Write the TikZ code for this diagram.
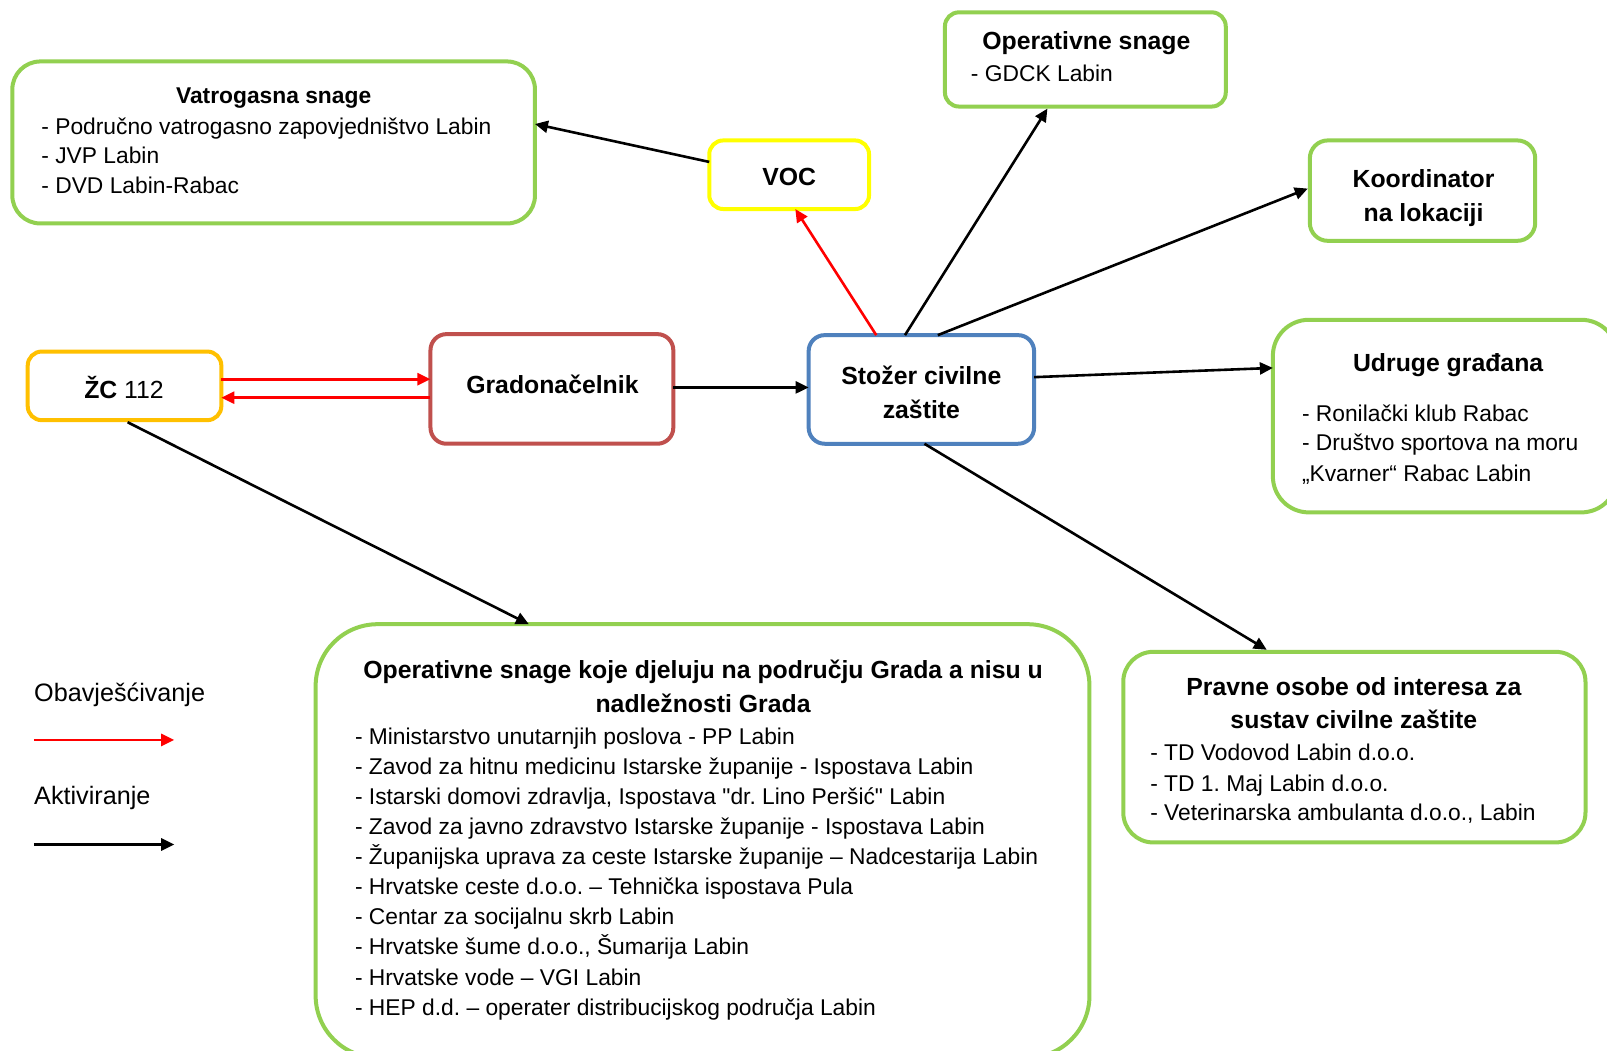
\documentclass[tikz,border=0pt]{standalone}
\usepackage{fontspec}
\setmainfont{Liberation Sans}[Ligatures=TeXOff]
\usetikzlibrary{arrows.meta,calc}
\definecolor{cgreen}{HTML}{92D050}
\definecolor{cyellow}{HTML}{FFFF00}
\definecolor{corange}{HTML}{FFC000}
\definecolor{cbred}{HTML}{C0504D}
\definecolor{cblue}{HTML}{4F81BD}
\definecolor{cred}{HTML}{FF0000}
\tikzset{
  box/.style={draw=#1, line width=2pt, inner sep=0pt, outer sep=0pt, fill=white},
  ttls/.style={font=\fontsize{11.4}{15}\selectfont\bfseries, anchor=base},
  bt/.style={font=\fontsize{11.4}{15}\selectfont, anchor=base west, inner sep=0pt},
  bth/.style={font=\fontsize{12.4}{16.9}\selectfont\bfseries, anchor=base, inner sep=0pt},
  act/.style={draw=black, line width=1.3pt, -{Triangle[length=6.5pt,width=6pt]}},
  ntf/.style={draw=cred, line width=1.3pt, -{Triangle[length=6.5pt,width=6pt]}},
  leg/.style={font=\fontsize{12.6}{15}\selectfont, anchor=base west, inner sep=0pt},
}
\begin{document}
\frenchspacing
\begin{tikzpicture}[x=0.5124pt,y=-0.5124pt]
\clip (0,0) rectangle (1568,1025);
\fill[white] (0,0) rectangle (1568,1025);

% boxes
\node[box=cgreen, rounded corners=14pt, minimum width=261.3pt, minimum height=81pt] (vatro) at (267,139) {};
\node[box=cyellow, rounded corners=7pt, minimum width=79.9pt, minimum height=34.3pt] (voc) at (770,170.5) {};
\node[box=cgreen, rounded corners=7pt, minimum width=140.4pt, minimum height=47.1pt] (ops) at (1059,58) {};
\node[box=cgreen, rounded corners=9pt, minimum width=112.7pt, minimum height=50.2pt] (koord) at (1388,186) {};
\node[box=cgreen, rounded corners=18pt, minimum width=172.2pt, minimum height=96.3pt] (udruge) at (1410,406) {};
\node[box=corange, rounded corners=7pt, minimum width=96.8pt, minimum height=34.3pt] (zc) at (121.5,376.5) {};
\node[box=cbred, rounded corners=8pt, minimum width=121.4pt, minimum height=54.8pt] (grad) at (538.5,379.5) {};
\node[box=cblue, rounded corners=8pt, minimum width=112.7pt, minimum height=54.3pt] (stozer) at (899,380) {};
\node[box=cgreen, rounded corners=31pt, minimum width=386.9pt, minimum height=216.7pt] (big) at (685.5,820.5) {};
\node[box=cgreen, rounded corners=15pt, minimum width=231.1pt, minimum height=95.3pt] (pravne) at (1321.5,729) {};

% single titles
\node[bth] (voct) at (770,181) {VOC};
\node[bth] (zct) at (121,389) {ŽC \textmd{112}};
\node[bth] (gradt) at (539,384) {Gradonačelnik};
\node[bth] (kt1) at (1389,183) {Koordinator};
\node[bth] (kt2) at (1389,216) {na lokaciji};
\node[bth] (st1) at (899,375) {Stožer civilne};
\node[bth] (st2) at (899,408) {zaštite};

% texts: Vatrogasna
\node[ttls] (vt0) at (267,101) {Vatrogasna snage};
\node[bt] (vt1) at (40,131) {- Područno vatrogasno zapovjedništvo Labin};
\node[bt] (vt2) at (40,160) {- JVP Labin};
\node[bt] (vt3) at (40,189) {- DVD Labin-Rabac};

% Operativne snage top
\node[bth] (ot0) at (1060,48) {Operativne snage};
\node[bt] (ot1) at (947,80) {- GDCK Labin};

% Udruge
\node[bth] (ut0) at (1413,362) {Udruge građana};
\node[bt] (ut1) at (1270,411) {- Ronilački klub Rabac};
\node[bt] (ut2) at (1270,440) {- Društvo sportova na moru};
\node[bt] (ut3) at (1270,470) {„Kvarner“ Rabac Labin};

% Pravne osobe
\node[bth] (pt0) at (1321,679) {Pravne osobe od interesa za};
\node[bth] (pt1) at (1321,711) {sustav civilne zaštite};
\node[bt] (pt2) at (1122,742) {- TD Vodovod Labin d.o.o.};
\node[bt] (pt3) at (1122,772) {- TD 1. Maj Labin d.o.o.};
\node[bt] (pt4) at (1122,801) {- Veterinarska ambulanta d.o.o., Labin};

% Big box
\node[bth] (bt0) at (686,662) {Operativne snage koje djeluju na području Grada a nisu u};
\node[bth] (bt1) at (686,695) {nadležnosti Grada};
\foreach \t [count=\i] in {
  {- Ministarstvo unutarnjih poslova - PP Labin},
  {- Zavod za hitnu medicinu Istarske županije - Ispostava Labin},
  {- Istarski domovi zdravlja, Ispostava "dr. Lino Peršić" Labin},
  {- Zavod za javno zdravstvo Istarske županije - Ispostava Labin},
  {- Županijska uprava za ceste Istarske županije – Nadcestarija Labin},
  {- Hrvatske ceste d.o.o. – Tehnička ispostava Pula},
  {- Centar za socijalnu skrb Labin},
  {- Hrvatske šume d.o.o., Šumarija Labin},
  {- Hrvatske vode – VGI Labin},
  {- HEP d.d. – operater distribucijskog područja Labin}}
  \node[bt] (bl\i) at (346,{726+29.4*(\i-1)}) {\t};

% legend
\node[leg] (l1) at (33,684) {Obavješćivanje};
\node[leg] (l2) at (33,785) {Aktiviranje};
\coordinate (r1) at (33,722);
\coordinate (r2) at (170,722);
\coordinate (k1) at (33,824);
\coordinate (k2) at (170,824);
\draw[ntf] (r1) -- (r2);
\draw[act] (k1) -- (k2);

% connectors
\draw[act] ($(voc.west)+(0,-12.5)$) -- ($(vatro.east)+(0,-18)$);
\draw[ntf] ($(stozer.north)+(-44,0)$) -- ($(voc.south)+(6,0)$);
\draw[act] ($(stozer.north)+(-16,0)$) -- ($(ops.south)+(-37,2)$);
\draw[act] ($(stozer.north)+(16,0)$) -- ($(koord.west)+(-2,-2)$);
\draw[act] ($(stozer.east)+(0,-12)$) -- ($(udruge.west)+(0,-47)$);
\draw[act] ($(grad.east)+(0,-1.5)$) -- ($(stozer.west)+(0,-2)$);
\draw[ntf] ($(zc.east)+(0,-6.5)$) -- ($(grad.west)+(0,-9.5)$);
\draw[ntf] ($(grad.west)+(0,8.5)$) -- ($(zc.east)+(0,11.5)$);
\draw[act] ($(zc.south)+(3,2)$) -- ($(big.north)+(-169.5,0)$);
\draw[act] ($(stozer.south)+(3,0)$) -- ($(pravne.north)+(-85.5,-2)$);
\end{tikzpicture}
\end{document}
